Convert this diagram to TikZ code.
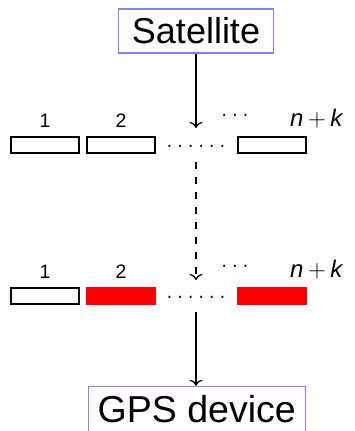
\documentclass[tikz,border=0pt]{standalone}
\usepackage{fontspec}
\setmainfont{Liberation Sans}
\usetikzlibrary{arrows.meta}
\definecolor{boxblue}{RGB}{128,128,255}
\newcommand{\onedot}{\makebox[10.6pt]{·}}
\begin{document}
\begin{tikzpicture}[x=1pt,y=-1pt,
  cell/.style={draw=black, fill=white, line width=2.2pt, minimum width=68pt, minimum height=16pt, inner sep=0pt},
  redcell/.style={cell, draw=red, fill=red},
  lab/.style={font=\fontsize{19.5}{22}\selectfont, inner sep=0pt, anchor=base},
  nk/.style={font=\fontsize{24}{26}\selectfont, inner sep=0pt, anchor=base west},
  dotsty/.style={font=\fontsize{19}{20}\selectfont, inner sep=0pt, anchor=base},
  title/.style={draw=boxblue, line width=1.5pt, inner sep=0pt, text depth=0pt},
  arr/.style={line width=1.3pt, -{To[length=6pt,width=13pt]}},
  darr/.style={arr, dash pattern=on 7pt off 8pt}]
\useasboundingbox (0,0) rectangle (354,431);

% source and sink
\node[title, font=\fontsize{36}{40}\selectfont, minimum width=155pt, minimum height=44pt, text height=26pt]
  (sat) at (196,30.75) {Satellite};
\node[title, font=\fontsize{37.5}{42}\selectfont, minimum width=217pt, minimum height=46.5pt, text height=27pt, text depth=2pt]
  (gps) at (196.75,409.75) {GPS device};

% first row
\node[cell] (a1) at (45,145) {};
\node[cell] (a2) at (121,145) {};
\node[cell] (a3) at (272,145) {};
\node[lab] (la1) at (45,127.7) {1};
\node[lab] (la2) at (121,127.7) {2};
\node[dotsty] (ta) at (235,120.8) {\onedot\onedot\onedot};
\node[dotsty] (ra) at (196,151.8) {\onedot\onedot\onedot\onedot\onedot\onedot};
\node[nk] (nka) at (290,126) {\textit{n}\hspace{4.5pt}$+$\hspace{4.5pt}\textit{k}};

% second row
\node[cell] (b1) at (45,296) {};
\node[redcell] (b2) at (121,296) {};
\node[redcell] (b3) at (272,296) {};
\node[lab] (lb1) at (45,278.7) {1};
\node[lab] (lb2) at (121,278.7) {2};
\node[dotsty] (tb) at (235,271.8) {\onedot\onedot\onedot};
\node[dotsty] (rb) at (196,302.8) {\onedot\onedot\onedot\onedot\onedot\onedot};
\node[nk] (nkb) at (290,277) {\textit{n}\hspace{4.5pt}$+$\hspace{4.5pt}\textit{k}};

% connectors
\coordinate (t1) at (196,128);
\coordinate (d0) at (196,162);
\coordinate (t2) at (196,280);
\coordinate (s3) at (196,312);
\draw[arr] (sat.south) -- (t1);
\draw[darr] (d0) -- (t2);
\draw[arr] (s3) -- (gps.north -| s3);
\end{tikzpicture}
\end{document}
